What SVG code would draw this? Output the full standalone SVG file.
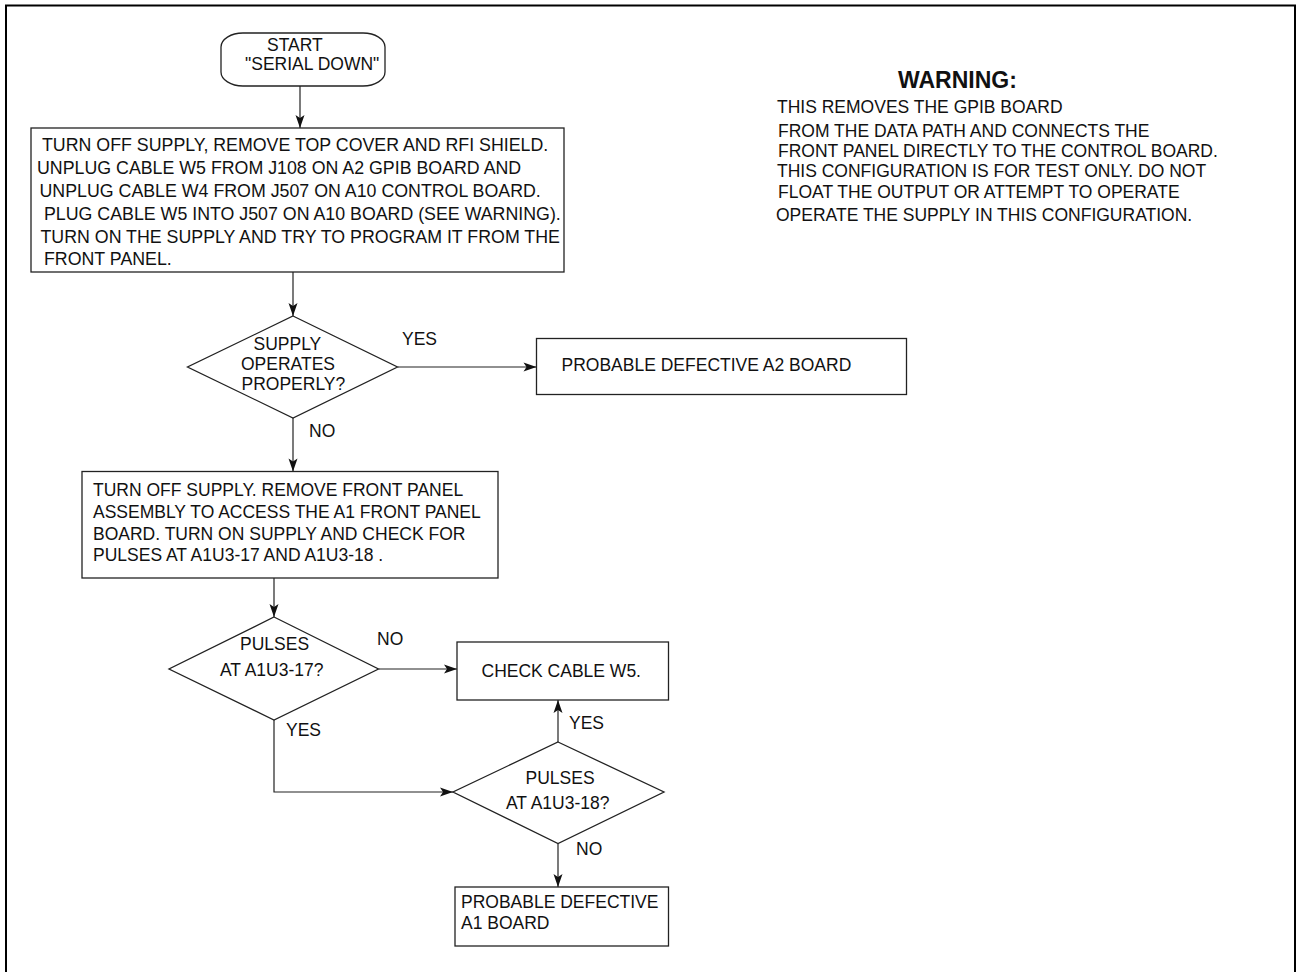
<svg xmlns="http://www.w3.org/2000/svg" width="1296" height="972" viewBox="0 0 1296 972">
<style>
text{font-family:"Liberation Sans",Arial,sans-serif;font-size:17.5px;fill:#111}
.b{font-weight:bold;font-size:23px}
.m{font-size:17.8px}
.s{fill:#fff;stroke:#222;stroke-width:1.3}
.c{fill:none;stroke:#222;stroke-width:1.2}
</style>
<defs>
<marker id="ah" markerUnits="userSpaceOnUse" markerWidth="14" markerHeight="10" viewBox="-14 -5 14 10" refX="0" refY="0" orient="auto">
<path d="M0,0 L-13,-4.5 L-10,0 L-13,4.5 Z" fill="#111"/>
</marker>
</defs>
<rect x="6" y="5.5" width="1289" height="985" fill="none" stroke="#000" stroke-width="2"/>
<g id="connectors">
<line class="c" x1="300" y1="86" x2="300" y2="128" marker-end="url(#ah)"/>
<line class="c" x1="293" y1="272" x2="293" y2="316" marker-end="url(#ah)"/>
<line class="c" x1="397.5" y1="367" x2="536.5" y2="367" marker-end="url(#ah)"/>
<line class="c" x1="293" y1="418" x2="293" y2="471.5" marker-end="url(#ah)"/>
<line class="c" x1="274" y1="578" x2="274" y2="617" marker-end="url(#ah)"/>
<line class="c" x1="378.5" y1="669" x2="457" y2="669" marker-end="url(#ah)"/>
<line class="c" x1="558" y1="742" x2="558" y2="700" marker-end="url(#ah)"/>
<polyline class="c" points="274,720 274,792 453,792" marker-end="url(#ah)"/>
<line class="c" x1="558" y1="843.5" x2="558" y2="887" marker-end="url(#ah)"/>
<text x="402" y="345">YES</text>
<text x="309" y="437">NO</text>
<text x="377" y="645">NO</text>
<text x="569" y="729">YES</text>
<text x="286" y="736">YES</text>
<text x="576" y="855">NO</text>
</g>
<g id="start">
<rect class="s" x="221" y="33" width="164" height="53" rx="22" ry="14"/>
<text x="267" y="51">START</text>
<text x="245" y="70">"SERIAL DOWN"</text>
</g>
<g id="step1">
<rect class="s" x="31" y="128" width="533" height="144"/>
<text class="m" x="42" y="150.5">TURN OFF SUPPLY, REMOVE TOP COVER AND RFI SHIELD.</text>
<text class="m" x="37" y="173.5">UNPLUG CABLE W5 FROM J108 ON A2 GPIB BOARD AND</text>
<text class="m" x="39.5" y="196.5">UNPLUG CABLE W4 FROM J507 ON A10 CONTROL BOARD.</text>
<text class="m" x="44" y="219.5">PLUG CABLE W5 INTO J507 ON A10 BOARD (SEE WARNING).</text>
<text class="m" x="40.5" y="242.5">TURN ON THE SUPPLY AND TRY TO PROGRAM IT FROM THE</text>
<text class="m" x="44" y="265">FRONT PANEL.</text>
</g>
<g id="warning">
<text class="b" x="898" y="88">WARNING:</text>
<text x="777" y="113">THIS REMOVES THE GPIB BOARD</text>
<text x="778" y="136.5">FROM THE DATA PATH AND CONNECTS THE</text>
<text x="778" y="156.5">FRONT PANEL DIRECTLY TO THE CONTROL BOARD.</text>
<text x="777" y="177">THIS CONFIGURATION IS FOR TEST ONLY. DO NOT</text>
<text x="778" y="197.5">FLOAT THE OUTPUT OR ATTEMPT TO OPERATE</text>
<text x="776" y="221">OPERATE THE SUPPLY IN THIS CONFIGURATION.</text>
</g>
<g id="decision1">
<polygon class="s" points="293,316 397.5,367 293,418 187.5,367"/>
<text x="253.5" y="350">SUPPLY</text>
<text x="241" y="370">OPERATES</text>
<text x="241.5" y="390">PROPERLY?</text>
</g>
<g id="a2board">
<rect class="s" x="536.5" y="338.5" width="370" height="56"/>
<text x="561.5" y="371">PROBABLE DEFECTIVE A2 BOARD</text>
</g>
<g id="step2">
<rect class="s" x="82" y="471.5" width="416" height="106.5"/>
<text x="93" y="496">TURN OFF SUPPLY. REMOVE FRONT PANEL</text>
<text x="93" y="518">ASSEMBLY TO ACCESS THE A1 FRONT PANEL</text>
<text x="93" y="539.5">BOARD. TURN ON SUPPLY AND CHECK FOR</text>
<text x="93" y="561">PULSES AT A1U3-17 AND A1U3-18 .</text>
</g>
<g id="decision2">
<polygon class="s" points="274,617 378.5,669 274,720 169,669"/>
<text x="240" y="650">PULSES</text>
<text x="220" y="676">AT A1U3-17?</text>
</g>
<g id="checkcable">
<rect class="s" x="457" y="642" width="211.5" height="58"/>
<text x="481.5" y="677">CHECK CABLE W5.</text>
</g>
<g id="decision3">
<polygon class="s" points="558,742 664,792 558,843.5 453,792"/>
<text x="525.5" y="784">PULSES</text>
<text x="506" y="809">AT A1U3-18?</text>
</g>
<g id="a1board">
<rect class="s" x="455" y="887" width="213.5" height="59"/>
<text x="461" y="908">PROBABLE DEFECTIVE</text>
<text x="461" y="929">A1 BOARD</text>
</g>
</svg>
